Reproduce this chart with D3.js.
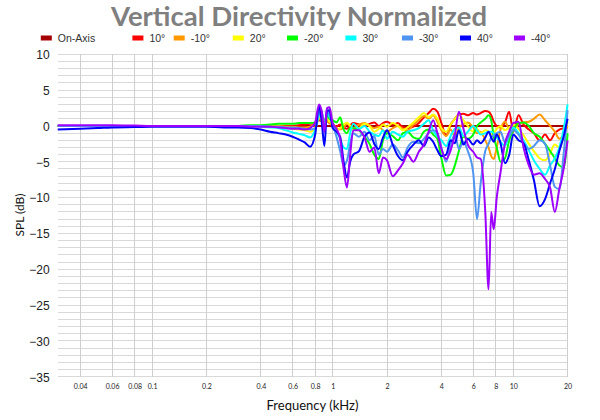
<!DOCTYPE html>
<html><head><meta charset="utf-8">
<script src="https://cdn.jsdelivr.net/npm/d3@7"></script>
<style>body{margin:0;background:#fff}svg{display:block}</style>
</head><body>
<svg id="c" width="600" height="420"></svg>
<script>
const title = "Vertical Directivity Normalized";
const seriesNames = ["On-Axis","10°","-10°","20°","-20°","30°","-30°","40°","-40°"];
const xTickValues = [0.04,0.06,0.08,0.1,0.2,0.4,0.6,0.8,1,2,4,6,8,10,20];
const xTickLabels = ["0.04","0.06","0.08","0.1","0.2","0.4","0.6","0.8","1","2","4","6","8","10","20"];
const yTickValues = [10,5,0,-5,-10,-15,-20,-25,-30,-35];
const freq = [0.03,0.04,0.05,0.06,0.08,0.1,0.15,0.2,0.25,0.3,0.35,0.4,0.45,0.5,0.55,0.6,0.65,0.7,0.75,
0.8,0.84,0.87,0.9,0.93,0.96,1.0,1.05,1.1,1.15,1.2,1.25,1.3,1.4,1.5,1.6,1.7,1.8,1.9,2.0,2.15,2.3,2.45,2.6,2.8,3.0,3.2,3.4,3.6,3.8,4.0,4.25,4.5,4.75,5.0,5.3,5.6,6.0,6.3,6.6,7.0,7.3,7.55,7.8,8.1,8.5,9.0,9.5,10,10.7,11.4,12.2,13,14,15,16,17,18,19,20];

const onAxis = freq.map(() => 0);
const deg10 = [0,0,0,0,0,0,0,0,0,0,0,0,0,0,0,0,0.1,0.2,0.3,
0.3,0.8,0.6,0.3,0.7,0.4,0.2,-0.1,0.2,-0.2,-0.4,0.1,0.4,0.2,0.0,0.3,0.5,0.0,0.4,0.6,0.2,0.4,-0.2,-0.3,-0.1,0.4,1.2,1.8,2.4,2.0,0.4,-1.3,0.2,1.0,1.6,1.7,1.5,1.8,1.6,1.8,2.1,2.0,1.5,0.6,0.0,-0.2,0.5,2.0,-0.8,1.5,0.2,-0.5,-1.0,-2.0,-1.2,-2.0,-1.0,-0.5,-0.3,0.0];
const degM10 = [0,0,0,0,0,0,0,0,0,0,0,0,0,0,-0.1,-0.1,-0.2,-0.2,-0.1,
0.4,1.0,0.6,0.2,0.6,0.5,0.3,-0.3,-0.5,-0.2,0.3,0.0,-0.3,0.2,0.4,0.0,-0.3,-0.1,-0.6,-0.8,-0.3,0.0,-0.4,-0.6,0.2,0.8,1.4,1.0,1.5,0.6,-0.6,-1.4,-0.5,-1.5,-0.3,0.3,0.5,-0.2,-1.0,-0.8,-2.0,-3.0,-4.2,-4.6,-3.0,-0.5,0.6,-0.4,0.0,0.2,0.5,0.6,1.0,1.6,0.8,0.0,-0.8,-1.8,-1.2,0.0];
const deg20 = [0,0,0,0,0,0,0,0,0,0,0,0,-0.1,-0.1,-0.2,-0.4,-0.5,-0.6,-0.8,
-0.2,1.2,1.5,0.4,1.0,0.6,0.0,-0.6,-0.3,0.2,0.5,0.0,-0.6,-0.3,0.3,0.0,-0.8,-0.4,0.2,-0.1,0.4,0.0,-0.6,-0.2,0.5,1.2,1.8,1.2,1.6,1.0,-0.3,-0.8,0.2,1.0,1.6,0.8,0.0,-0.8,-0.4,-1.0,-0.6,-0.8,-1.2,-1.0,-0.4,0.0,-0.6,-0.2,0.2,-0.4,-1.3,-2.5,-3.5,-4.5,-4.8,-3.8,-2.6,-3.0,-1.5,0.6];
const degM20 = [0,0,0,0,0,0,0,0,0,0,0.1,0.1,0.2,0.3,0.3,0.3,0.4,0.4,0.4,
0.5,2.0,1.6,0.6,1.5,1.0,0.8,0.5,1.2,-0.5,-1.0,-0.2,-0.3,-0.6,-1.5,-2.5,-4.0,-4.6,-2.0,-1.0,-1.4,-2.0,-1.0,-0.8,-1.6,-1.8,-0.8,-0.5,-1.2,-1.8,-4.5,-6.9,-6.8,-5.5,-3.5,-1.5,-1.8,-1.2,0.0,0.5,1.0,1.5,0.8,-1.5,-3.0,-5.0,-4.5,-2.0,-0.6,0.4,0.5,0.0,-1.0,-1.5,-2.5,-3.5,-4.5,-5.5,-5.8,-1.0];
const deg30 = [0,0,0,0,0,0,0,0,0,0,0,-0.1,-0.2,-0.3,-0.6,-0.9,-1.1,-1.3,-1.6,
-0.5,1.4,2.0,-0.3,1.8,1.3,0.4,-0.8,-1.8,-3.0,-3.2,-1.0,0.3,-0.4,0.0,-0.8,-1.2,-1.4,-0.6,-1.8,-0.8,-1.2,-1.5,-0.8,-0.6,-0.3,0.3,0.8,-0.6,-1.5,-2.0,-2.8,-1.4,-0.4,-0.2,-1.4,-0.8,0.0,-0.6,-1.2,-1.0,-0.8,-0.8,-1.0,-1.6,-2.2,-2.8,-1.2,-0.2,-1.0,-2.0,-3.4,-4.8,-6.0,-6.8,-5.5,-4.5,-3.0,-0.5,3.0];
const degM30 = [0,0,0,0,0,0,0,0,0,0,0,0,-0.1,-0.1,-0.2,-0.2,-0.3,-0.4,-0.5,
-0.3,1.8,2.2,-0.8,2.4,1.6,0.2,-1.5,-3.5,-5.5,-4.8,-2.5,-1.0,-1.5,-0.8,-2.0,-1.4,-4.0,-3.2,-3.6,-2.6,-3.4,-4.4,-3.0,-2.2,-2.4,-1.8,-1.0,-0.6,-1.0,-3.0,-5.0,-2.6,-1.2,-3.2,-2.2,-3.5,-6.5,-13.0,-8.0,-3.5,-2.5,-1.6,-1.3,-1.0,-0.8,-2.3,-1.4,-0.6,-1.2,-2.4,-3.2,-2.8,-2.0,-2.5,-5.5,-8.5,-8.8,-4.0,2.2];
const deg40 = [-0.5,-0.4,-0.3,-0.2,-0.15,-0.1,-0.1,-0.1,-0.2,-0.2,-0.3,-0.5,-0.8,-1.0,-1.2,-1.5,-1.9,-2.3,-2.9,
-1.2,2.8,0.5,-2.8,2.0,2.2,-0.3,-0.8,-1.5,-5.0,-7.2,-5.0,-4.0,-3.5,-1.5,-0.9,-2.5,-3.2,-1.6,-0.6,-2.6,-4.2,-4.8,-3.6,-2.6,-2.0,-2.8,-1.6,-2.2,-3.4,-4.2,-4.0,-2.0,-2.4,-0.6,-2.6,-1.8,-2.6,-2.0,-2.4,-1.6,-0.8,-1.6,-2.2,-1.2,-2.4,-5.2,-4.0,-1.2,-2.0,-2.4,-4.8,-7.5,-11.2,-10.2,-8.0,-6.0,-3.5,-1.5,1.0];
const degM40 = [0.1,0.1,0.1,0.1,0.05,0,0,0,0,0,-0.1,-0.1,-0.1,-0.2,-0.3,-0.4,-0.4,-0.5,-0.3,
0.5,3.0,2.0,-0.8,2.5,2.6,0.4,-0.4,-1.8,-6.0,-8.6,-4.0,-0.6,-0.6,-1.6,-3.6,-3.0,-6.6,-4.4,-4.8,-7.0,-6.2,-5.2,-4.0,-5.0,-3.6,-2.6,-0.8,0.8,-1.0,-3.2,-4.6,-3.4,-1.2,2.0,-0.4,-2.6,-3.6,-4.4,-4.6,-12.0,-22.8,-12.0,-14.4,-10.0,-6.5,-2.4,-0.8,0.4,0.6,-3.0,-5.5,-6.8,-6.6,-7.4,-8.6,-12.0,-8.8,-6.0,-2.0];

const seriesValues = [onAxis,deg10,degM10,deg20,degM20,deg30,degM30,deg40,degM40];
const colors = ["#a50000","#ff0000","#ff9900","#ffff00","#00ff00","#00ffff","#4f94f0","#0000ff","#9d00ff"];

const svg = d3.select("#c");
const L = 57.7, R = 567.6, T = 54.3, B = 376.8;
const x = d3.scaleLog().domain([0.03,20]).range([L,R]);
const y = d3.scaleLinear().domain([-35,10]).range([B,T]);

// grid
const grid = svg.append("g");
grid.selectAll("line.h").data(d3.range(-35,11,1)).join("line")
  .attr("x1",L).attr("x2",R).attr("y1",d=>y(d)).attr("y2",d=>y(d))
  .attr("stroke","#d9d9d9").attr("stroke-width",1).attr("shape-rendering","crispEdges");
grid.selectAll("line.v").data(xTickValues).join("line")
  .attr("y1",T).attr("y2",B).attr("x1",d=>x(d)).attr("x2",d=>x(d))
  .attr("stroke","#cfcfcf").attr("stroke-width",1).attr("shape-rendering","crispEdges");

// axes
const xa = svg.append("g").attr("transform",`translate(0,${B+3})`)
  .call(d3.axisBottom(x).tickValues(xTickValues).tickFormat((d,i)=>xTickLabels[i]).tickSize(0));
xa.select(".domain").remove();
xa.selectAll("text").attr("font-family","Lato, 'Open Sans', sans-serif").attr("font-size","7px").attr("fill","#222").attr("dy","0.9em");

const ya = svg.append("g").attr("transform",`translate(${L-5},0)`)
  .call(d3.axisLeft(y).tickValues(yTickValues).tickSize(0));
ya.select(".domain").remove();
ya.selectAll("text").attr("font-family","'Liberation Sans', Arial, sans-serif").attr("font-size","12px").attr("fill","#222").attr("dy","0.35em");

// lines
const line = d3.line().x((d,i)=>x(freq[i])).y(d=>y(d)).curve(d3.curveMonotoneX);
svg.append("g").selectAll("path").data(seriesValues).join("path")
  .attr("d",d=>line(d)).attr("fill","none")
  .attr("stroke",(d,i)=>colors[i]).attr("stroke-width",2).attr("stroke-linejoin","round");

// title
svg.append("text").attr("x",299).attr("y",26).attr("text-anchor","middle")
  .attr("font-family","Lato, 'Open Sans', sans-serif").attr("font-weight","bold").attr("font-size","26px")
  .attr("fill","#7f7f7f").attr("textLength",376).attr("lengthAdjust","spacingAndGlyphs").text(title);

// legend
const legX = [40.8,132.4,173.7,232.8,287,345.4,402,460,514];
const leg = svg.append("g");
seriesNames.forEach((n,i)=>{
  leg.append("rect").attr("x",legX[i]).attr("y",35.5).attr("width",11).attr("height",5).attr("fill",colors[i]);
  leg.append("text").attr("x",legX[i]+17).attr("y",42)
    .attr("font-family","'Liberation Sans', Arial, sans-serif").attr("font-size","10.5px").attr("fill","#333").text(n);
});

// axis titles
svg.append("text").attr("x",312.5).attr("y",409.5).attr("text-anchor","middle")
  .attr("font-family","Lato, 'Open Sans', sans-serif").attr("font-size","13px").attr("fill","#111").text("Frequency (kHz)");
svg.append("text").attr("transform","translate(24,215) rotate(-90)").attr("text-anchor","middle")
  .attr("font-family","Lato, 'Open Sans', sans-serif").attr("font-size","12px").attr("fill","#111").text("SPL (dB)");
</script>
</body></html>
